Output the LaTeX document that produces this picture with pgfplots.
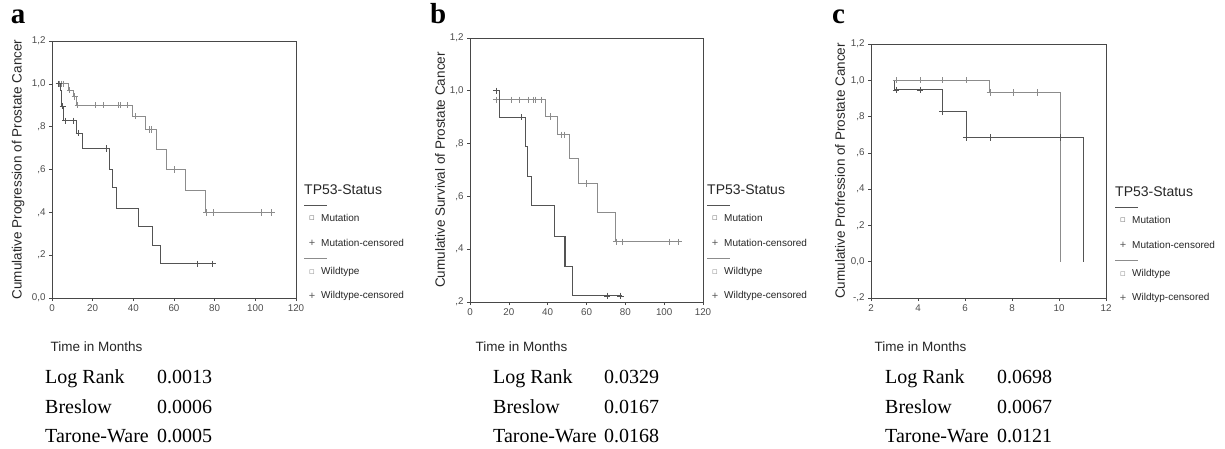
\documentclass[border=0pt]{standalone}
\usepackage{pgfplots}
\pgfplotsset{compat=1.18}
\usepackage{fontspec}
\setmainfont{Liberation Sans}
\newfontfamily\serifrm{Liberation Serif}
\newfontfamily\dejavu{DejaVu Sans}

\definecolor{mutc}{gray}{0.33}
\definecolor{wtc}{gray}{0.55}

\pgfplotsset{
  km/.style={
    scale only axis, clip=false,
    axis line style={black!72, line width=0.9pt},
    tick align=outside, tick pos=left,
    major tick length=3pt,
    tick style={black!72, line width=0.6pt},
    ticklabel style={font=\fontsize{9.8}{10}\selectfont, text=black!70},
    label style={font=\fontsize{13.5}{15}\selectfont, text=black!85},
    /pgf/number format/assume math mode=true,
    xlabel={Time in Months},
  },
  mut/.style={const plot, color=mutc, line width=1.1pt, no marks},
  wt/.style={const plot, color=wtc, line width=0.9pt, no marks},
  mutcens/.style={only marks, mark=+, mark size=3.2pt, color=mutc, mark options={line width=0.8pt}},
  wtcens/.style={only marks, mark=+, mark size=3.2pt, color=wtc, mark options={line width=0.8pt}},
}

% legend beside each panel: #1 left x, #2 downward shift, #3 last entry
\newcommand{\kmlegend}[3]{%
  \begin{scope}[shift={(#1pt,-#2pt)}]
    \node[anchor=west, inner sep=0, font=\fontsize{14}{15}\selectfont, text=black!85] at (0pt,258pt) {TP53-Status};
    \draw[mutc, line width=1pt] (0pt,243pt) -- (23pt,243pt);
    \node[inner sep=0, font=\dejavu\fontsize{9}{9}\selectfont, text=black!50] at (8pt,230pt) {▫};
    \node[anchor=west, inner sep=0, font=\fontsize{10}{11}\selectfont, text=black!85] at (17pt,230pt) {Mutation};
    \node[inner sep=0, font=\fontsize{11}{11}\selectfont, text=black!65] at (8pt,205pt) {+};
    \node[anchor=west, inner sep=0, font=\fontsize{10}{11}\selectfont, text=black!85] at (17pt,205pt) {Mutation-censored};
    \draw[wtc, line width=1pt] (0pt,190pt) -- (23pt,190pt);
    \node[inner sep=0, font=\dejavu\fontsize{9}{9}\selectfont, text=black!40] at (8pt,176pt) {▫};
    \node[anchor=west, inner sep=0, font=\fontsize{10}{11}\selectfont, text=black!85] at (17pt,176pt) {Wildtype};
    \node[inner sep=0, font=\fontsize{11}{11}\selectfont, text=black!65] at (8pt,152pt) {+};
    \node[anchor=west, inner sep=0, font=\fontsize{10}{11}\selectfont, text=black!85] at (17pt,152pt) {#3};
  \end{scope}}

% test statistics below each panel: #1 left x, #2 value x, #3-#5 values
\newcommand{\kmstats}[5]{%
  \begin{scope}[every node/.style={anchor=base west, inner sep=0, font=\serifrm\fontsize{20}{21}\selectfont}]
    \node at (#1pt,65pt) {Log Rank};    \node at (#2pt,65pt) {#3};
    \node at (#1pt,35pt) {Breslow};     \node at (#2pt,35pt) {#4};
    \node at (#1pt,6pt)  {Tarone-Ware}; \node at (#2pt,6pt)  {#5};
  \end{scope}}

\begin{document}
\begin{tikzpicture}
\useasboundingbox (0,0) rectangle (1225pt,448pt);

% ---------------- panel a
\begin{axis}[km, at={(52pt,150pt)}, width=244pt, height=257pt,
  xmin=0, xmax=120, ymin=0, ymax=1.2,
  xtick={0,20,40,60,80,100,120}, xticklabels={0,20,40,60,80,100,120},
  ytick={0,0.2,0.4,0.6,0.8,1.0,1.2},
  yticklabels={{0,0},{,2},{,4},{,6},{,8},{1,0},{1,2}},
  ylabel={Cumulative Progression of Prostate Cancer},
  ylabel style={at={(axis description cs:-0.139,0.5)}, anchor=center},
  xlabel style={at={(axis description cs:0,0)}, anchor=west, xshift=-5pt, yshift=-49pt},
]
\addplot[wt] coordinates {
  (2.8,1.0) (8.0,0.97) (10.5,0.94) (12.0,0.90) (39.5,0.85) (46.0,0.787)
  (51.3,0.695) (56.5,0.60) (65.8,0.50) (75.7,0.40) (108.7,0.40)};
\addplot[wtcens] coordinates {
  (3.5,1.0) (4.5,1.0) (5.5,1.0) (8.8,0.97) (11.2,0.94) (12.7,0.90) (21.4,0.90)
  (25.5,0.90) (32.9,0.90) (33.7,0.90) (37.0,0.90) (41.1,0.85) (47.7,0.787)
  (48.8,0.787) (60.0,0.60) (76.0,0.40) (79.4,0.40) (103.1,0.40) (108.0,0.40)};
\addplot[mut] coordinates {
  (2.8,1.0) (4.0,0.97) (4.8,0.896) (5.8,0.827) (12.0,0.77) (14.8,0.698)
  (28.4,0.60) (29.6,0.517) (31.6,0.42) (42.7,0.334) (49.3,0.245) (53.4,0.16) (78.9,0.16)};
\addplot[mutcens] coordinates {
  (3.3,1.0) (5.3,0.896) (6.6,0.827) (10.4,0.827) (13.2,0.77) (26.8,0.698)
  (71.5,0.16) (78.9,0.16)};
\end{axis}

% ---------------- panel b
\begin{axis}[km, at={(470pt,146pt)}, width=233pt, height=264pt,
  xmin=0, xmax=120, ymin=0.2, ymax=1.2,
  xtick={0,20,40,60,80,100,120}, xticklabels={0,20,40,60,80,100,120},
  ytick={0.2,0.4,0.6,0.8,1.0,1.2},
  yticklabels={{,2},{,4},{,6},{,8},{1,0},{1,2}},
  ylabel={Cumulative Survival of Prostate Cancer},
  ylabel style={at={(axis description cs:-0.129,0.5)}, anchor=center},
  xlabel style={at={(axis description cs:0,0)}, anchor=west, xshift=2pt, yshift=-45pt},
]
\addplot[wt] coordinates {
  (12.9,0.966) (39.1,0.903) (45.0,0.833) (51.0,0.742) (56.1,0.649)
  (65.6,0.539) (74.7,0.428) (107.8,0.428)};
\addplot[wtcens] coordinates {
  (13.4,0.966) (21.5,0.966) (25.4,0.966) (30.0,0.966) (32.6,0.966) (33.5,0.966)
  (36.9,0.966) (41.6,0.903) (47.2,0.833) (48.4,0.833) (60.1,0.649)
  (75.2,0.428) (78.6,0.428) (102.7,0.428) (107.3,0.428)};
\addplot[mut] coordinates {
  (12.9,1.0) (15.1,0.90) (28.8,0.789) (29.7,0.675) (31.8,0.565) (43.3,0.447)
  (48.9,0.333) (52.9,0.223) (78.2,0.223)};
\addplot[mutcens] coordinates {
  (13.4,1.0) (26.6,0.90) (70.7,0.223) (77.6,0.223)};
\end{axis}

% ---------------- panel c
\begin{axis}[km, at={(871pt,150pt)}, width=235pt, height=254pt,
  xmin=2, xmax=12, ymin=-0.2, ymax=1.2,
  xtick={2,4,6,8,10,12}, xticklabels={2,4,6,8,10,12},
  ytick={-0.2,0,0.2,0.4,0.6,0.8,1.0,1.2},
  yticklabels={{-,2},{0,0},{,2},{,4},{,6},{,8},{1,0},{1,2}},
  ylabel={Cumulative Profression of Prostate Cancer},
  ylabel style={at={(axis description cs:-0.132,0.5)}, anchor=center},
  xlabel style={at={(axis description cs:0,0)}, anchor=west, xshift=0pt, yshift=-49pt},
]
\addplot[wt] coordinates {(3.0,1.0) (7.06,0.932) (10.05,0.0)};
\addplot[wtcens] coordinates {
  (3.06,1.0) (4.09,1.0) (5.04,1.0) (6.05,1.0) (7.06,0.932) (8.05,0.932) (9.06,0.932)};
\addplot[mut] coordinates {(3.0,1.0) (3.0,0.947) (5.04,0.828) (6.05,0.684) (11.04,0.0)};
\addplot[mutcens] coordinates {
  (3.06,0.947) (4.09,0.947) (5.04,0.828) (6.05,0.684) (7.06,0.684) (10.05,0.684)};
\end{axis}

% legends
\kmlegend{304}{0}{Wildtype-censored}
\kmlegend{707}{0}{Wildtype-censored}
\kmlegend{1115}{2}{Wildtyp-censored}

% statistics
\kmstats{45}{157}{0.0013}{0.0006}{0.0005}
\kmstats{493}{604}{0.0329}{0.0167}{0.0168}
\kmstats{885}{997}{0.0698}{0.0067}{0.0121}

% panel letters
\begin{scope}[every node/.style={anchor=base west, inner sep=0, font=\serifrm\bfseries\fontsize{29}{30}\selectfont}]
  \node at (10.7pt,424pt) {a};
  \node at (430pt,424pt) {b};
  \node at (832pt,424pt) {c};
\end{scope}
\end{tikzpicture}
\end{document}
